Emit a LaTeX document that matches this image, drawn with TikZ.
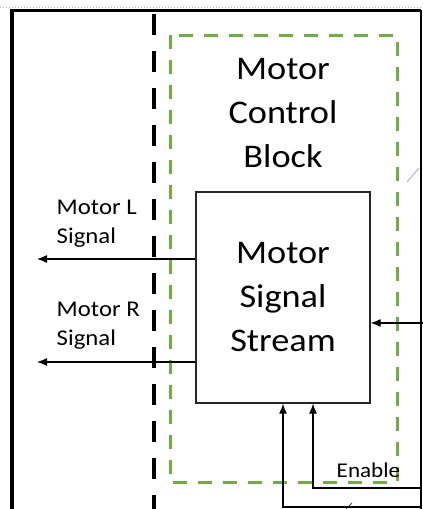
\documentclass[tikz,border=0pt]{standalone}
\usepackage{fontspec}
\setmainfont{Carlito}[FakeStretch=1.1]
\usetikzlibrary{positioning,arrows.meta}
\definecolor{ctrlgreen}{RGB}{112,173,71}

\begin{document}
\begin{tikzpicture}[x=1pt, y=-1pt, >={Latex[length=10pt,width=8pt]}, thick,
    block node/.style={draw=black!85, line width=1.2pt, minimum width=174pt, minimum height=211pt, align=center, font=\fontsize{33}{44}\selectfont},
    title node/.style={align=center, font=\fontsize{33}{44}\selectfont},
    label node/.style={anchor=base west, align=left, font=\fontsize{22.5}{29}\selectfont},
    sig/.style={->, line width=1.2pt}]
        \useasboundingbox (0,0) rectangle (423,509);
        % frame and borders
        \draw[gray!60, line width=1pt, dotted] (0,7) -- (423,7);
        \draw[line width=3.5pt] (421,10.5) -- (12,10.5) -- (12,509);
        \draw[line width=1.5pt] (421,10) -- (421,509);
        \draw[line width=4pt, dash pattern=on 21pt off 16pt] (154,14) -- (154,509);
        \draw[ctrlgreen, line width=3pt, dash pattern=on 14pt off 11pt] (170,35) rectangle (397,482);
        \draw[gray!50, line width=1.2pt] (407,182) -- (419,168);
        \draw[black!70, line width=1pt] (346,509) -- (352,503);

        \node[title node] (title) at (283,113) {Motor\\Control\\Block};
        \node[block node] (main) at (283,297.5) {Motor\\Signal\\Stream};
        \node[label node] (lname) at (53,243) {Motor L\\Signal};
        \node[label node] (rname) at (53,345) {Motor R\\Signal};
        \node[anchor=base west, font=\fontsize{21}{25}\selectfont] (enable) at (333,477) {Enable};

        \coordinate (lout) at (37,259);
        \coordinate (rout) at (37,362);
        \coordinate (rin) at (423,323);
        \coordinate (enin) at (421,488);
        \coordinate (botin) at (421,507);
        \path[sig]
        (main.west |- lout) edge node {} (lout)
        (main.west |- rout) edge node {} (rout)
        (rin) edge node {} (main.east |- rin);
        \draw[sig] (enin) -| ([xshift=30pt]main.south);
        \draw[sig] (botin) -| (main.south);
    \end{tikzpicture}
\end{document}
